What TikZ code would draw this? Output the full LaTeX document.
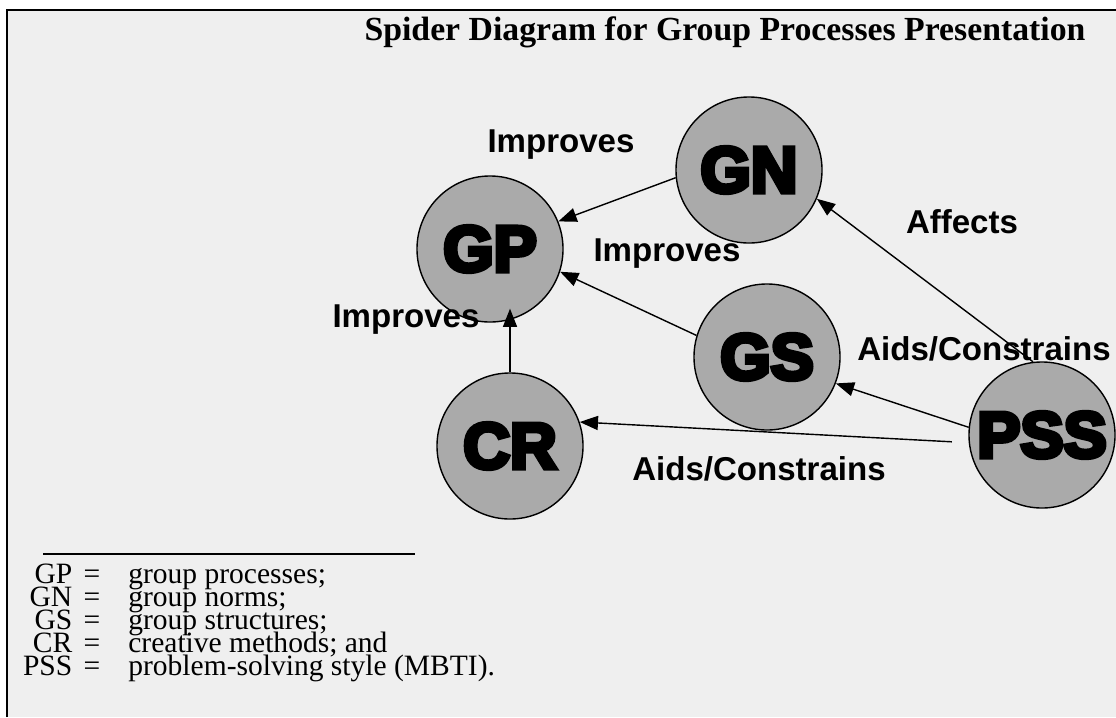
\documentclass[tikz,border=0pt]{standalone}
\usepackage{fontspec}
\setmainfont{Liberation Serif}
\setsansfont{Liberation Sans}
\newfontfamily\heavyfont[FakeBold=7]{Liberation Sans Bold}
\usepackage{tikz}
\usetikzlibrary{shapes.geometric, arrows.meta, positioning}
\definecolor{paper}{RGB}{239,239,239}
\definecolor{disc}{RGB}{170,170,170}
\tikzstyle{topic} =
[circle, minimum size = 3.65cm, inner sep = 0pt, text centered,
draw=black, line width = 1pt, fill=disc, font=\heavyfont\fontsize{46}{46}\selectfont]
\tikzstyle{relation} =
[anchor = base, inner sep = 0pt, font=\sffamily\bfseries\fontsize{23.5}{23.5}\selectfont]
\tikzstyle{legend} =
[anchor = base west, inner sep = 0pt, font=\rmfamily\fontsize{21}{21}\selectfont]
\tikzstyle{line} = [draw, line width = 1pt, -{Triangle[length=13pt, width=10pt]}]

\begin{document}
\begin{tikzpicture}[x=0.025cm, y=-0.025cm]
  % paper and frame
  \useasboundingbox (0,0) rectangle (1116,717);
  \fill [paper] (7,10) rectangle (1116,717);
  \draw [line width=1.5pt] (7,717) -- (7,10) -- (1116,10);
  \node [anchor=base, inner sep=0pt, font=\rmfamily\bfseries\fontsize{24}{24}\selectfont]
   (title) at (725,40) {Spider Diagram for Group Processes Presentation};
  %
  % topic nodes
  \node [topic] (GP) at (490,249) {GP};
  \node [topic] (GN) at (749,170) {GN};
  \node [topic] (GS) at (767,357) {GS};
  \node [topic] (CR) at (510,446) {CR};
  \node [topic] (PSS) at (1042,435) {PSS};
  % edges
  \path [line] (GN.186) -- (GP.22);
  \path [line] (GS.163) -- (GP.-18);
  \path [line, shorten >=-10pt] (CR.north) -- (CR.north |- GP.south);
  \path [line] (PSS.97) -- (GN.-23);
  \path [line] (PSS.174) -- (GS.-21);
  \path [line, shorten <=12pt] (PSS.186) -- (CR.19);
  % edge labels
  \node [relation] (improvesgn) at (561,152) {Improves};
  \node [relation] (improvesgs) at (667,261) {Improves};
  \node [relation] (improvescr) at (406,327) {Improves};
  \node [relation] (affects) at (962,233) {Affects};
  \node [relation] (aidsgs) at (984,360) {Aids/Constrains};
  \node [relation] (aidscr) at (759,480) {Aids/Constrains};
  %
  % legend
  \draw [line width=0.8pt] (43,554) -- (415,554);
  \node [legend] (lgp) at (43,583)
   {\makebox[40.5pt][r]{GP\hspace{8pt}=}\hspace{20pt}group processes;};
  \node [below=0.58cm of lgp.base west, legend] (lgn)
   {\makebox[40.5pt][r]{GN\hspace{8pt}=}\hspace{20pt}group norms;};
  \node [below=0.58cm of lgn.base west, legend] (lgs)
   {\makebox[40.5pt][r]{GS\hspace{8pt}=}\hspace{20pt}group structures;};
  \node [below=0.58cm of lgs.base west, legend] (lcr)
   {\makebox[40.5pt][r]{CR\hspace{8pt}=}\hspace{20pt}creative methods; and};
  \node [below=0.58cm of lcr.base west, legend] (lpss)
   {\makebox[40.5pt][r]{PSS\hspace{8pt}=}\hspace{20pt}problem-solving style (MBTI).};
\end{tikzpicture}
\end{document}
